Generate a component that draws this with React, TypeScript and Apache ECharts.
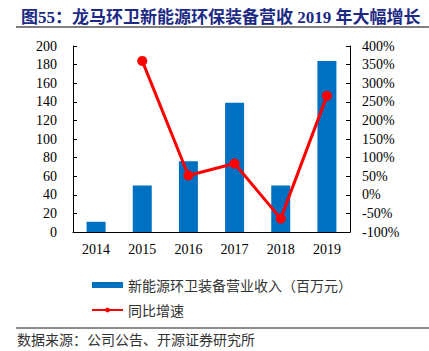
import React, { useEffect, useRef } from "react";
import * as echarts from "echarts";

const categories = ["2014", "2015", "2016", "2017", "2018", "2019"];
const revenue = [11, 50, 76, 139, 50, 184];
const growth: (number | string)[] = ["-", 360, 52, 84, -64, 266];
const titleText = "图55：龙马环卫新能源环保装备营收 2019 年大幅增长";
const sourceText = "数据来源：公司公告、开源证券研究所";
const revenueName = "新能源环卫装备营业收入（百万元）";
const growthName = "同比增速";

export default function App() {
  const ref = useRef<HTMLDivElement>(null);
  useEffect(() => {
    if (!ref.current) return;
    const chart = echarts.init(ref.current, undefined, { renderer: "svg" });
    const serif = "'Liberation Serif', 'Times New Roman', 'Noto Sans CJK SC', serif";
    const cjk = "'Noto Sans CJK SC', sans-serif";
    chart.setOption({
      animation: false,
      backgroundColor: "#ffffff",
      title: {
        text: titleText,
        left: 16,
        top: 4,
        textStyle: {
          fontFamily: "'Liberation Serif', 'Noto Sans CJK SC', serif",
          fontWeight: "bold",
          fontSize: 17,
          color: "#1C2A85",
        },
      },
      graphic: [
        {
          type: "line",
          shape: { x1: 16, y1: 27, x2: 429, y2: 27 },
          style: { stroke: "#555555", lineWidth: 1.5 },
        },
        {
          type: "line",
          shape: { x1: 16, y1: 328, x2: 429, y2: 328 },
          style: { stroke: "#8c8c8c", lineWidth: 2 },
        },
        {
          type: "text",
          left: 17,
          top: 332,
          style: { text: sourceText, font: "14px 'Noto Sans CJK SC', sans-serif", fill: "#333333" },
        },
      ],
      legend: {
        orient: "vertical",
        left: 86,
        top: 273,
        itemWidth: 31,
        itemHeight: 6,
        itemGap: 11,
        textStyle: { fontFamily: cjk, fontSize: 14, color: "#333333" },
        data: [
          { name: revenueName, icon: "rect" },
          { name: growthName },
        ],
      },
      grid: { left: 73, right: 79, top: 46, bottom: 119 },
      xAxis: {
        type: "category",
        data: categories,
        axisLine: { lineStyle: { color: "#000000", width: 1 } },
        axisTick: { inside: true, length: 4, lineStyle: { color: "#000000" } },
        axisLabel: { fontFamily: serif, fontSize: 14, color: "#000000", margin: 10 },
      },
      yAxis: [
        {
          type: "value",
          min: 0,
          max: 200,
          interval: 20,
          splitLine: { show: false },
          axisLine: { show: true, lineStyle: { color: "#000000" } },
          axisTick: { show: true, inside: true, length: 4, lineStyle: { color: "#000000" } },
          axisLabel: { fontFamily: serif, fontSize: 14, color: "#000000", margin: 16 },
        },
        {
          type: "value",
          min: -100,
          max: 400,
          interval: 50,
          splitLine: { show: false },
          axisLine: { show: true, lineStyle: { color: "#000000" } },
          axisTick: { show: true, inside: true, length: 4, lineStyle: { color: "#000000" } },
          axisLabel: { fontFamily: serif, fontSize: 14, color: "#000000", margin: 12, formatter: "{value}%" },
        },
      ],
      series: [
        {
          name: revenueName,
          type: "bar",
          data: revenue,
          barWidth: 19,
          itemStyle: { color: "#0070C0" },
        },
        {
          name: growthName,
          type: "line",
          yAxisIndex: 1,
          data: growth,
          symbol: "circle",
          symbolSize: 10,
          lineStyle: { color: "#FF0000", width: 3 },
          itemStyle: { color: "#FF0000" },
        },
      ],
    });
    return () => chart.dispose();
  }, []);
  return (
    <div
      ref={ref}
      style={{ position: "fixed", left: 0, top: 0, width: 429, height: 351 }}
    />
  );
}
